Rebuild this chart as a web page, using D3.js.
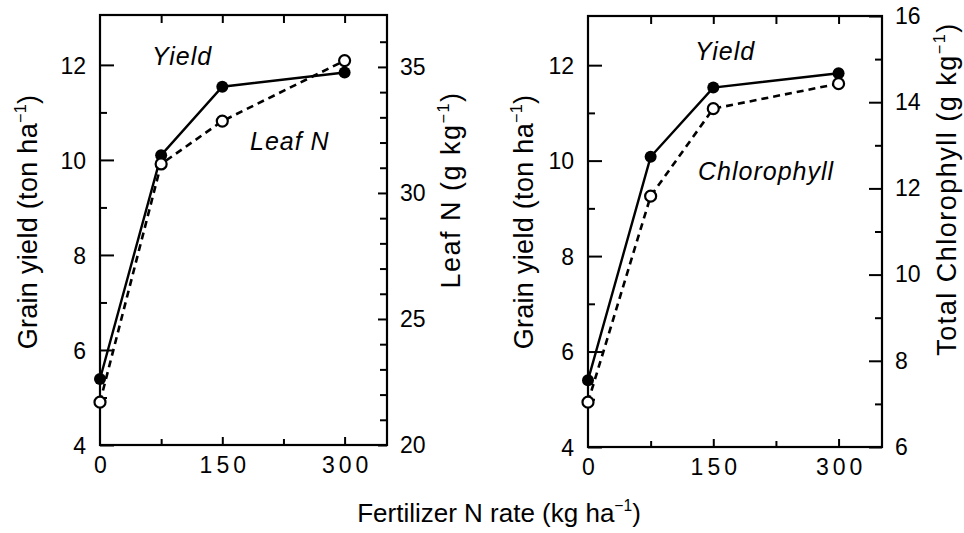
<!DOCTYPE html>
<html>
<head>
<meta charset="utf-8">
<script src="https://cdn.jsdelivr.net/npm/d3@7"></script>
<style>
  html, body { margin: 0; padding: 0; background: #fff; }
  svg { display: block; font-family: "Liberation Sans", Arial, Helvetica, sans-serif; }
</style>
</head>
<body>
<svg id="chart" width="964" height="533"></svg>
<script>
// ---- Data ----
const nRates = [0, 75, 150, 300];                 // Fertilizer N rate (kg ha-1)
const yieldLeft = [5.39, 10.1, 11.54, 11.84];     // Grain yield (ton ha-1), left panel
const leafN = [21.7, 31.15, 32.85, 35.25];        // Leaf N (g kg-1)
const yieldRight = [5.40, 10.08, 11.53, 11.83];   // Grain yield (ton ha-1), right panel
const chlorophyll = [7.04, 11.82, 13.85, 14.43];  // Total chlorophyll (g kg-1)

const xTickLabels = [0, 150, 300];
const xMinorTicks = [75, 225];
const yieldTicks = [4, 6, 8, 10, 12];
const yieldMinor = [5, 7, 9, 11];
const leafNTicks = [20, 25, 30, 35];
const leafNMinor = [21, 22, 23, 24, 26, 27, 28, 29, 31, 32, 33, 34, 36];
const chlTicks = [6, 8, 10, 12, 14, 16];
const chlMinor = [7, 9, 11, 13, 15];

const svg = d3.select("#chart");

function title(g, parts, size) {
  // parts: [text, superscript, text]
  const t = g.append("text").attr("font-size", size).attr("fill", "#000");
  t.append("tspan").text(parts[0]);
  t.append("tspan").attr("font-size", size * 0.6).attr("dy", -size * 0.42).text(parts[1]);
  t.append("tspan").attr("dy", size * 0.42).text(parts[2]);
  return t;
}

function panel(opt) {
  const g = svg.append("g");
  const x = d3.scaleLinear().domain([0, 352]).range([opt.left, opt.right]);
  const yL = d3.scaleLinear().domain(opt.yLDomain).range([opt.bottom, opt.top]);
  const yR = d3.scaleLinear().domain(opt.yRDomain).range([opt.bottom, opt.top]);

  // left axis (inward ticks)
  const la = g.append("g").attr("transform", `translate(${opt.left},0)`)
    .call(d3.axisLeft(yL).tickValues(yieldTicks).tickSizeInner(-14).tickSizeOuter(0).tickPadding(14).tickFormat(d3.format("d")));
  g.append("g").attr("transform", `translate(${opt.left},0)`)
    .call(d3.axisLeft(yL).tickValues(yieldMinor).tickSizeInner(-7).tickSizeOuter(0).tickFormat(""));

  // right axis (inward ticks)
  g.append("g").attr("transform", `translate(${opt.right},0)`)
    .call(d3.axisRight(yR).tickValues(opt.rTicks).tickSizeInner(-opt.rMajor).tickSizeOuter(0).tickPadding(13).tickFormat(d3.format("d")));
  g.append("g").attr("transform", `translate(${opt.right},0)`)
    .call(d3.axisRight(yR).tickValues(opt.rMinor.filter(v => v >= opt.yRDomain[0] && v <= opt.yRDomain[1])).tickSizeInner(-7).tickSizeOuter(0).tickFormat(""));

  // bottom axis
  const ba = g.append("g").attr("transform", `translate(0,${opt.bottom})`)
    .call(d3.axisBottom(x).tickValues(xTickLabels).tickSizeInner(-8).tickSizeOuter(0).tickPadding(10).tickFormat(d3.format("d")));
  ba.selectAll(".tick").filter(d => d === 0).select("line").remove();
  g.append("g").attr("transform", `translate(0,${opt.bottom})`)
    .call(d3.axisBottom(x).tickValues(xMinorTicks).tickSizeInner(-6).tickSizeOuter(0).tickFormat(""));
  // top axis
  g.append("g").attr("transform", `translate(0,${opt.top})`)
    .call(d3.axisTop(x).tickValues([75, 150, 225, 300]).tickSizeInner(-8).tickSizeOuter(0).tickFormat(""));

  g.selectAll(".domain").remove();
  g.selectAll(".tick line").attr("stroke", "#000").attr("stroke-width", 2);
  g.selectAll(".tick text").attr("font-size", 23).attr("fill", "#000").attr("font-family", "Liberation Sans, Arial, sans-serif");
  ba.selectAll(".tick text").attr("letter-spacing", 4).attr("dx", 2).attr("dy", "0.8em");
  la.selectAll(".tick text").attr("dy", "0.36em");

  // frame
  g.append("rect").attr("x", opt.left).attr("y", opt.top)
    .attr("width", opt.right - opt.left).attr("height", opt.bottom - opt.top)
    .attr("fill", "none").attr("stroke", "#000").attr("stroke-width", 2.2);

  // lines
  const lineL = d3.line().x((d, i) => x(nRates[i])).y(d => yL(d));
  const lineR = d3.line().x((d, i) => x(nRates[i])).y(d => yR(d));
  g.append("path").datum(opt.yieldVals).attr("d", lineL)
    .attr("fill", "none").attr("stroke", "#000").attr("stroke-width", 2.4);
  g.append("path").datum(opt.rVals).attr("d", lineR)
    .attr("fill", "none").attr("stroke", "#000").attr("stroke-width", 2.6).attr("stroke-dasharray", "7,5");

  g.selectAll("circle.f").data(opt.yieldVals).enter().append("circle")
    .attr("cx", (d, i) => x(nRates[i])).attr("cy", d => yL(d)).attr("r", 6).attr("fill", "#000");
  g.selectAll("circle.o").data(opt.rVals).enter().append("circle")
    .attr("cx", (d, i) => x(nRates[i])).attr("cy", d => yR(d)).attr("r", 5.5)
    .attr("fill", "#fff").attr("stroke", "#000").attr("stroke-width", 2.2);

  // in-plot labels
  g.append("text").attr("x", opt.yieldLab[0]).attr("y", opt.yieldLab[1]).attr("font-size", 25)
    .attr("font-style", "italic").attr("letter-spacing", 1).text("Yield");
  g.append("text").attr("x", opt.rLab[0]).attr("y", opt.rLab[1]).attr("font-size", 25)
    .attr("font-style", "italic").attr("letter-spacing", 1).text(opt.rLabText);

  // axis titles
  title(g, ["Grain yield (ton ha", "\u22121", ")"], 27)
    .attr("letter-spacing", 0.3)
    .attr("text-anchor", "middle")
    .attr("transform", `translate(${opt.lTitleX},222) rotate(-90)`);
  title(g, opt.rTitle, 27)
    .attr("letter-spacing", opt.rTitleLS)
    .attr("text-anchor", "middle")
    .attr("transform", `translate(${opt.rTitleX},${opt.rTitleY}) rotate(-90)`);
}

panel({
  left: 100, right: 387, top: 15, bottom: 445,
  yLDomain: [4, 13.05], yRDomain: [20, 37.06],
  rTicks: leafNTicks, rMinor: leafNMinor, rMajor: 9,
  yieldVals: yieldLeft, rVals: leafN,
  yieldLab: [152, 65], rLab: [250, 150], rLabText: "Leaf N",
  lTitleX: 37, rTitleX: 460, rTitleY: 190, rTitleLS: 1.5,
  rTitle: ["Leaf N (g kg", "\u22121", ")"]
});

panel({
  left: 588, right: 882, top: 16, bottom: 447,
  yLDomain: [4, 13.03], yRDomain: [6, 16],
  rTicks: chlTicks, rMinor: chlMinor, rMajor: 13,
  yieldVals: yieldRight, rVals: chlorophyll,
  yieldLab: [695, 60], rLab: [698, 180], rLabText: "Chlorophyll",
  lTitleX: 533, rTitleX: 956, rTitleY: 189, rTitleLS: 1.5,
  rTitle: ["Total Chlorophyll (g kg", "\u22121", ")"]
});

// shared x-axis title
title(svg, ["Fertilizer N rate (kg ha", "\u22121", ")"], 26)
  .attr("text-anchor", "middle")
  .attr("x", 499).attr("y", 522);
</script>
</body>
</html>
